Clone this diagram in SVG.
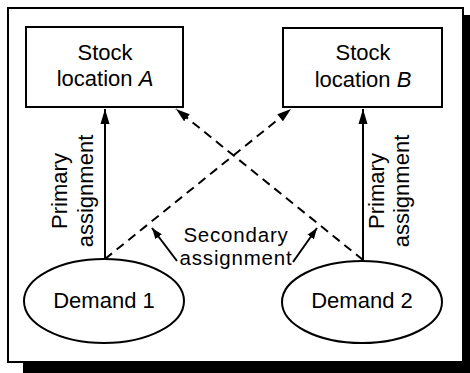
<svg xmlns="http://www.w3.org/2000/svg" width="470" height="373" viewBox="0 0 470 373">
  <defs>
    <style>
      .frame { fill: #ffffff; stroke: #000000; stroke-width: 2; }
      .node { fill: #ffffff; stroke: #000000; stroke-width: 2; }
      .lbl { font-family: "Liberation Sans", Arial, Helvetica, sans-serif; font-size: 22px; fill: #000000; text-anchor: middle; }
      .note { font-size: 20.5px; letter-spacing: 0.8px; }
      .solid { fill: none; stroke: #000000; stroke-width: 2; }
      .dash { fill: none; stroke: #000000; stroke-width: 2; stroke-dasharray: 9 6; }
      .thin { fill: none; stroke: #000000; stroke-width: 2; }
    </style>
    <marker id="head" markerUnits="userSpaceOnUse" markerWidth="16" markerHeight="10" refX="15" refY="5" orient="auto">
      <path d="M0,0.5 L15,5 L0,9.5 z" fill="#000000"/>
    </marker>
    <marker id="headDash" markerUnits="userSpaceOnUse" markerWidth="15" markerHeight="10" refX="14" refY="5" orient="auto">
      <path d="M0,0.5 L14,5 L0,9.5 z" fill="#000000"/>
    </marker>
    <marker id="headSmall" markerUnits="userSpaceOnUse" markerWidth="12" markerHeight="9" refX="11" refY="4.5" orient="auto">
      <path d="M0,0.5 L11,4.5 L0,8.5 z" fill="#000000"/>
    </marker>
  </defs>

  <!-- drop shadow and outer frame -->
  <rect x="23" y="15" width="460" height="370" fill="#000000"/>
  <rect class="frame" x="8" y="8" width="455" height="354"/>

  <g id="connectors">
    <!-- primary assignments -->
    <path class="solid" d="M105,259 L105,109" marker-end="url(#head)"/>
    <path class="solid" d="M363,260 L363,109" marker-end="url(#head)"/>
    <!-- secondary assignments -->
    <path class="dash" d="M105,259 L291,109" marker-end="url(#headDash)"/>
    <path class="dash" d="M363,260 L176,109" marker-end="url(#headDash)"/>
    <!-- callout arrows for the secondary label -->
    <path class="thin" d="M177,261 L152,228" marker-end="url(#headSmall)"/>
    <path class="thin" d="M293,262 L317,228" marker-end="url(#headSmall)"/>
  </g>

  <g id="stock-a">
    <rect class="node" x="26" y="27" width="157" height="80"/>
    <text class="lbl" x="105" y="60">Stock</text>
    <text class="lbl" x="105" y="86">location <tspan font-style="italic">A</tspan></text>
  </g>

  <g id="stock-b">
    <rect class="node" x="283" y="28" width="159" height="79"/>
    <text class="lbl" x="363" y="60">Stock</text>
    <text class="lbl" x="363" y="87">location <tspan font-style="italic">B</tspan></text>
  </g>

  <g id="demand-1">
    <ellipse class="node" cx="104" cy="301" rx="80" ry="42"/>
    <text class="lbl" x="104" y="308">Demand 1</text>
  </g>

  <g id="demand-2">
    <ellipse class="node" cx="362" cy="302" rx="80" ry="41"/>
    <text class="lbl" x="362" y="308">Demand 2</text>
  </g>

  <g id="labels">
    <g transform="translate(67,191) rotate(-90)">
      <text class="lbl" x="0" y="0">Primary</text>
      <text class="lbl" x="0" y="26">assignment</text>
    </g>
    <g transform="translate(384,191) rotate(-90)">
      <text class="lbl" x="0" y="0">Primary</text>
      <text class="lbl" x="0" y="25">assignment</text>
    </g>
    <text class="lbl note" x="236" y="242">Secondary</text>
    <text class="lbl note" x="236" y="265">assignment</text>
  </g>
</svg>
